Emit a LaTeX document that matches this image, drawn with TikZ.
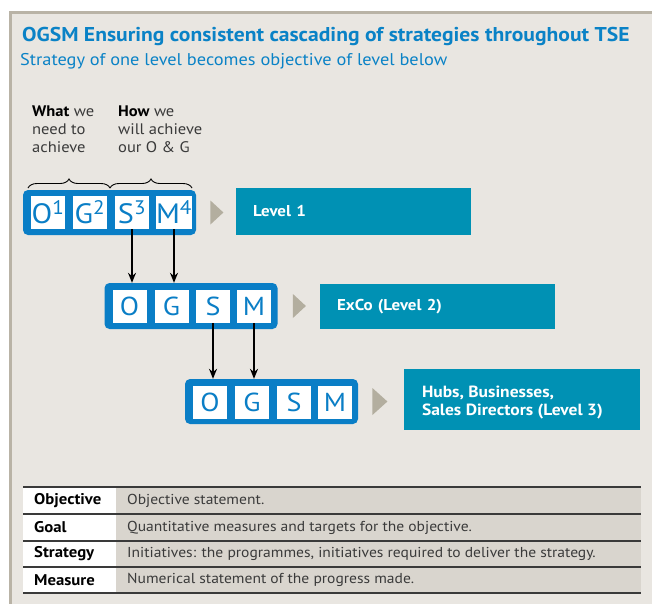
\documentclass[tikz,border=0pt]{standalone}
\usepackage{fontspec}
\setmainfont{PT Sans}[FakeStretch=1.08]
\usetikzlibrary{arrows.meta,decorations.pathreplacing,calc,shapes.geometric}
\definecolor{bg}{HTML}{E9E6E1}
\definecolor{framecol}{HTML}{B9B3A6}
\definecolor{titleblue}{HTML}{0A82C6}
\definecolor{ogsmblue}{HTML}{0A7EC6}
\definecolor{tealbox}{HTML}{0091B4}
\definecolor{tricol}{HTML}{B3AE9F}
\definecolor{cellgray}{HTML}{D9D5CE}
\definecolor{txtgray}{HTML}{3A3A3A}
\begin{document}
\begin{tikzpicture}[x=1pt,y=-1pt,
  outerbox/.style={fill=ogsmblue, rounded corners=5pt, minimum width=173pt, minimum height=45pt, inner sep=0pt},
  sq/.style={fill=white, minimum width=34pt, minimum height=33pt, inner sep=0pt, text=ogsmblue},
  sqbig/.style={sq, font=\fontsize{28}{28}\selectfont},
  sqsmall/.style={sq, font=\fontsize{26}{26}\selectfont},
  levelbox/.style={fill=tealbox, text=white, font=\bfseries\fontsize{15.7}{18}\selectfont, minimum width=235pt, text width=201pt, inner xsep=17pt, inner ysep=0pt, align=left},
  tri/.style={isosceles triangle, isosceles triangle stretches, fill=tricol, minimum height=13pt, minimum width=24pt, inner sep=0pt, anchor=west},
  arr/.style={-{Stealth[length=10pt,width=8pt]}, line width=1.4pt, black},
  lbl/.style={anchor=west, inner sep=0pt, font=\bfseries\fontsize{15.5}{16}\selectfont, text=black},
  dsc/.style={anchor=west, inner sep=0pt, font=\fontsize{14.4}{16}\selectfont, text=txtgray},
  rule/.style={draw=txtgray, line width=1.1pt}
]
\useasboundingbox (0,0) rectangle (652,603);
\fill[white] (0,0) rectangle (652,603);
\draw[framecol, line width=3pt, fill=bg] (10,12) rectangle (670,620);

% titles
\node[anchor=west, inner sep=0pt, text=titleblue, font=\bfseries\fontsize{20}{22}\selectfont] (title) at (22,36) {OGSM Ensuring consistent cascading of strategies throughout TSE};
\node[anchor=west, inner sep=0pt, text=titleblue, font=\fontsize{17}{20}\selectfont] (subtitle) at (20,61) {Strategy of one level becomes objective of level below};

% what / how
\node[anchor=north west, inner sep=0pt, align=left, text=txtgray, font=\fontsize{15.3}{18}\selectfont] (what) at (32,106) {\textbf{\color{black}What} we\\need to\\achieve};
\node[anchor=north west, inner sep=0pt, align=left, text=txtgray, font=\fontsize{15.3}{18}\selectfont] (how) at (118,106) {\textbf{\color{black}How} we\\will achieve\\our O \& G};
\coordinate (b1) at (28,188);
\coordinate (b2) at (110,188);
\coordinate (b3) at (192,188);
\draw[decorate, decoration={brace, amplitude=9pt}, line width=0.9pt] (b1) -- (b2);
\draw[decorate, decoration={brace, amplitude=9pt}, line width=0.9pt] (b2) -- (b3);

% level 1
\node[outerbox] (l1) at (109.5,212.5) {};
\node[sqbig] (o1) at (48,212.5) {O\textsuperscript{1}};
\node[sqbig] (g1) at (90,212.5) {G\textsuperscript{2}};
\node[sqbig] (s1) at (132,212.5) {S\textsuperscript{3}};
\node[sqbig] (m1) at (174,212.5) {M\textsuperscript{4}};
\node[tri] (t1) at ($(l1.east)+(14pt,0)$) {};
\node[levelbox, minimum height=47pt] (v1) at (353.5,211.5) {Level 1};

% level 2
\node[outerbox, minimum height=46pt] (l2) at (191,306) {};
\node[sqsmall] (o2) at (129.5,306.5) {O};
\node[sqsmall] (g2) at (171.5,306.5) {G};
\node[sqsmall] (s2) at (213,306.5) {S};
\node[sqsmall] (m2) at (254,306.5) {M};
\node[tri] (t2) at ($(l2.east)+(15pt,0)$) {};
\node[levelbox, minimum height=45pt] (v2) at (437.5,306.5) {ExCo (Level 2)};

% level 3
\node[outerbox] (l3) at (271.5,401.5) {};
\node[sqsmall] (o3) at (210,402) {O};
\node[sqsmall] (g3) at (252,402) {G};
\node[sqsmall] (s3) at (294,402) {S};
\node[sqsmall] (m3) at (335,402) {M};
\node[tri, minimum width=27pt, minimum height=15pt] (t3) at ($(l3.east)+(14pt,0)$) {};
\node[levelbox, minimum width=236pt, minimum height=61pt, text width=200pt,
  label={[anchor=west, inner sep=0pt, align=left, text=white, font=\bfseries\fontsize{16.2}{18}\selectfont, yshift=-3pt, xshift=18pt]west:Hubs, Businesses,\\Sales Directors (Level 3)}] (v3) at (522,399.5) {};

% arrows
\draw[arr] (s1.south) -- (s1.south |- l2.north);
\draw[arr] (m1.south) -- (m1.south |- l2.north);
\draw[arr] (s2.south) -- (s2.south |- l3.north);
\draw[arr] (m2.south) -- (m2.south |- l3.north);

% table
\fill[white] (23,487) rectangle (116,593);
\fill[cellgray] (116,487) rectangle (641,593);
\foreach \yy in {487,514,541,567,593} \draw[rule] (23,\yy) -- (641,\yy);
\node[lbl] (k1) at (34,500.5) {Objective};
\node[lbl] (k2) at (34,527.5) {Goal};
\node[lbl] (k3) at (34,554) {Strategy};
\node[lbl] (k4) at (34,580) {Measure};
\node[dsc] (d1) at (127,500.5) {Objective statement.};
\node[dsc] (d2) at (127,527.5) {Quantitative measures and targets for the objective.};
\node[dsc] (d3) at (127,554) {Initiatives: the programmes, initiatives required to deliver the strategy.};
\node[dsc] (d4) at (127,580) {Numerical statement of the progress made.};
\end{tikzpicture}
\end{document}
